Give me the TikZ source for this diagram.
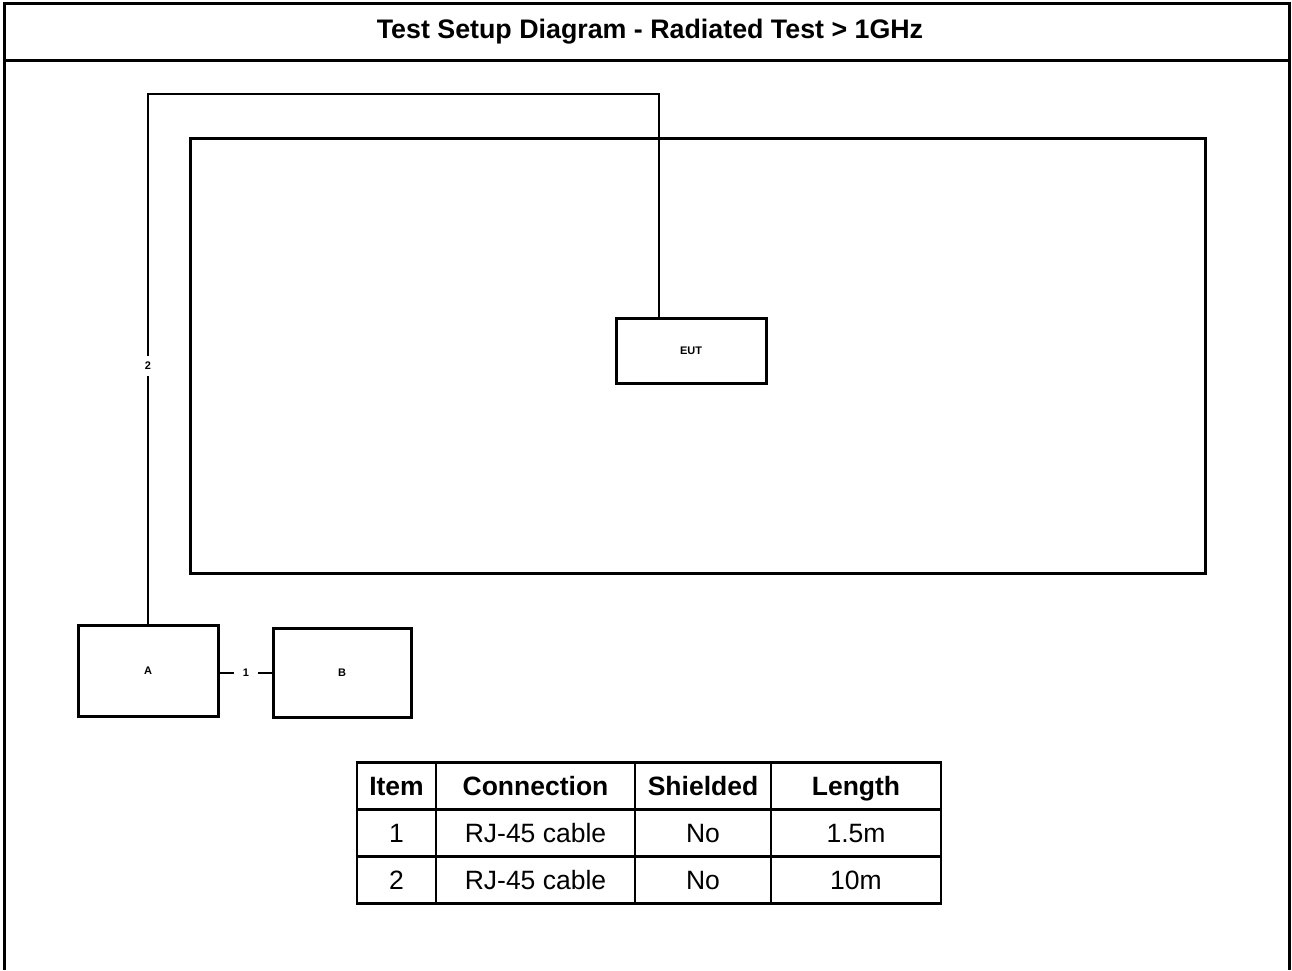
\documentclass[tikz,border=0pt]{standalone}
\usepackage{fontspec}
\setmainfont{Liberation Sans}
\usetikzlibrary{positioning}

\tikzset{
    frame/.style={line width=3pt},
    unit/.style={draw, line width=3pt, inner sep=0pt, font=\fontsize{11}{13}\selectfont\bfseries},
    cable/.style={line width=1.5pt},
    cablelabel/.style={fill=white, inner sep=6pt, font=\fontsize{11}{13}\selectfont\bfseries},
    cell/.style={draw, line width=2.4pt, minimum height=47pt, inner sep=0pt,
        text height=22pt, text depth=4pt, font=\fontsize{26.5}{30}\selectfont},
    headcell/.style={cell, font=\fontsize{26.5}{30}\selectfont\bfseries},
}

\begin{document}
\begin{tikzpicture}[x=1pt, y=-1pt]
    \useasboundingbox (0,0) rectangle (1292,970);

    % outer frame and title
    \draw[frame] (4,970) -- (4,3) -- (1289,3) -- (1289,970);
    \draw[frame] (4,60) -- (1289,60);
    \node[font=\fontsize{26.8}{30}\selectfont\bfseries] (title) at (650,32) {Test Setup Diagram - Radiated Test > 1GHz};

    % table / ground plane
    \node[unit, minimum width=1015pt, minimum height=435pt] (table) at (697.5,355.5) {};

    % equipment
    \node[unit, minimum width=150pt, minimum height=65pt] (eut) at (691,350.5) {EUT};
    \node[unit, minimum width=140pt, minimum height=91pt] (a) at (148,670.5) {A};
    \node[unit, minimum width=138pt, minimum height=89pt] (b) at (342,672.5) {B};

    % cables
    \coordinate (turn2) at (659,94);
    \node[cablelabel] (l2) at (148,366) {2};
    \draw[cable] (a.north) -- (l2.south);
    \draw[cable] (l2.north) |- (turn2) -- (turn2 |- eut.north);
    \node[cablelabel, inner xsep=9pt] (l1) at (246,673) {1};
    \draw[cable] (a.east |- l1) -- (l1.west);
    \draw[cable] (l1.east) -- (b.west |- l1);

    % cable list
    \node[headcell, minimum width=79pt] (h1) at (396.5,786) {Item};
    \node[headcell, minimum width=199pt] (h2) at (535.5,786) {Connection};
    \node[headcell, minimum width=136pt] (h3) at (703,786) {Shielded};
    \node[headcell, minimum width=170pt] (h4) at (856,786) {Length};

    \node[cell, minimum width=79pt] (r1c1) at (396.5,833) {1};
    \node[cell, minimum width=199pt] (r1c2) at (535.5,833) {RJ-45 cable};
    \node[cell, minimum width=136pt] (r1c3) at (703,833) {No};
    \node[cell, minimum width=170pt] (r1c4) at (856,833) {1.5m};

    \node[cell, minimum width=79pt] (r2c1) at (396.5,880) {2};
    \node[cell, minimum width=199pt] (r2c2) at (535.5,880) {RJ-45 cable};
    \node[cell, minimum width=136pt] (r2c3) at (703,880) {No};
    \node[cell, minimum width=170pt] (r2c4) at (856,880) {10m};
\end{tikzpicture}
\end{document}
